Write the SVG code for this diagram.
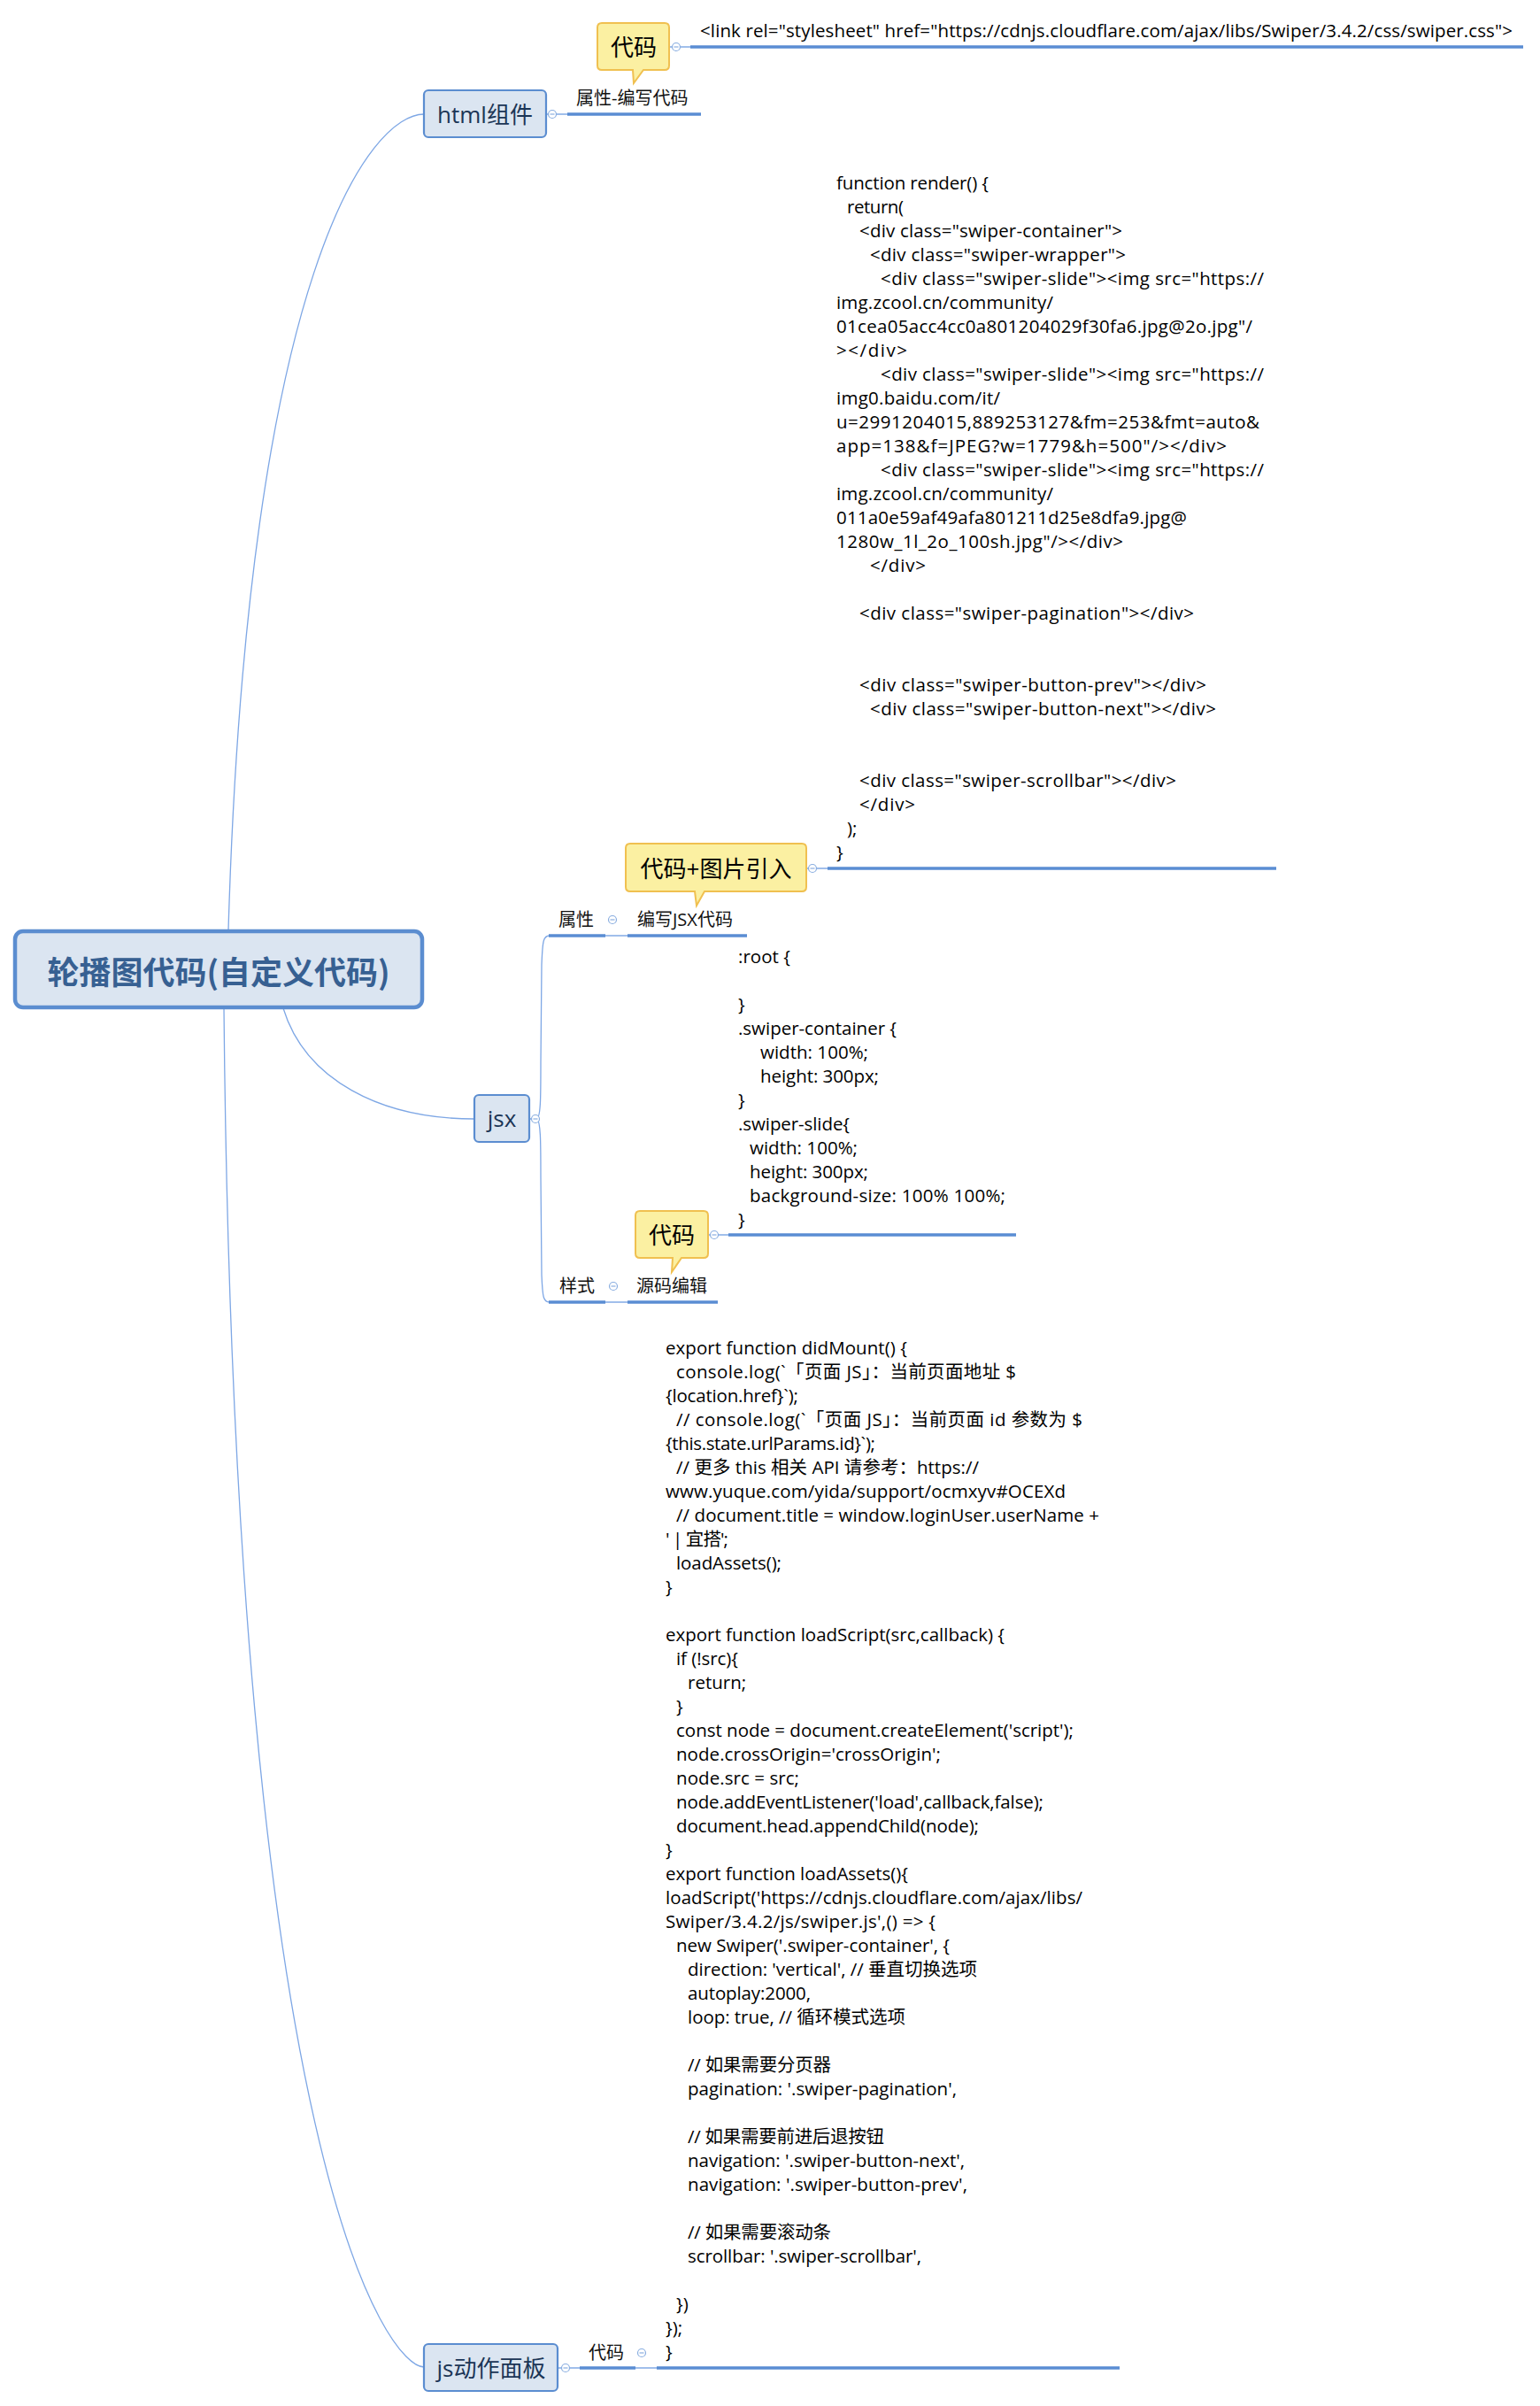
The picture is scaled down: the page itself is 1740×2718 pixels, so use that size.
<svg xmlns="http://www.w3.org/2000/svg" width="1740" height="2718" viewBox="0 0 1740 2718">
<style>
.code{font-family:"Open Sans","Noto Sans CJK SC",sans-serif;font-size:20.5px;fill:#000}
.lbl{font-family:"Open Sans","Noto Sans CJK SC",sans-serif;font-size:20px;fill:#111}
.ntxt{font-family:"Open Sans","Noto Sans CJK SC",sans-serif;font-size:26px;fill:#1b3556;text-anchor:middle;dominant-baseline:central}
.ctxt{font-family:"Open Sans","Noto Sans CJK SC",sans-serif;font-size:26px;fill:#000;text-anchor:middle;dominant-baseline:central}
.main{font-family:"Noto Sans CJK SC","Open Sans",sans-serif;font-size:36px;font-weight:bold;fill:#376092;text-anchor:middle;dominant-baseline:central}
.box{fill:#dbe5f1;stroke:#5b8dd0;stroke-width:2.2}
.callout{fill:#fbf0a2;stroke:#f0c050;stroke-width:2}
.curve{fill:none;stroke:#7ea7e5;stroke-width:1.3}
.thin{fill:none;stroke:#6f9de0;stroke-width:1.3}
.thick{fill:none;stroke:#5a8dd3;stroke-width:3.5}
.mark{fill:#fff;stroke:#8aaee0;stroke-width:1.2}
.minus{stroke:#8aaee0;stroke-width:1.2}
</style>
<defs>
<g id="collapse"><circle class="mark" cx="0" cy="0" r="4.5"/><line class="minus" x1="-2.5" y1="0" x2="2.5" y2="0"/></g>
</defs>
<rect width="1740" height="2718" fill="#fff"/>

<g id="connectors">
<path class="curve" d="M258,1051 C280,300 420,129 479,129"/>
<path class="curve" d="M320,1139 C345,1220 430,1264 536,1264"/>
<path class="curve" d="M253,1139 C265,2450 440,2674 479,2674"/>
<line class="thin" x1="617" y1="129" x2="641" y2="129"/>
<line class="thick" x1="641" y1="129" x2="792" y2="129"/>
<line class="thin" x1="756" y1="53" x2="780" y2="53"/>
<line class="thick" x1="780" y1="53" x2="1721" y2="53"/>
<line class="thin" x1="911" y1="981" x2="935" y2="981"/>
<line class="thick" x1="935" y1="981" x2="1442" y2="981"/>
<path class="curve" d="M598,1264 L606,1264 C611,1264 611,1240 611,1200 L612,1090 C613,1062 614,1057 621,1057"/>
<path class="curve" d="M606,1264 C611,1264 611,1290 611,1330 L612,1440 C613,1466 614,1471 621,1471"/>
<line class="thick" x1="620" y1="1057" x2="684" y2="1057"/>
<line class="thin" x1="684" y1="1057" x2="709" y2="1057"/>
<line class="thick" x1="709" y1="1057" x2="844" y2="1057"/>
<line class="thick" x1="620" y1="1471" x2="684" y2="1471"/>
<line class="thin" x1="684" y1="1471" x2="709" y2="1471"/>
<line class="thick" x1="709" y1="1471" x2="811" y2="1471"/>
<line class="thin" x1="800" y1="1395" x2="823" y2="1395"/>
<line class="thick" x1="823" y1="1395" x2="1148" y2="1395"/>
<line class="thin" x1="630" y1="2675" x2="655" y2="2675"/>
<line class="thick" x1="655" y1="2675" x2="718" y2="2675"/>
<line class="thin" x1="718" y1="2675" x2="742" y2="2675"/>
<line class="thick" x1="742" y1="2675" x2="1265" y2="2675"/>
<use href="#collapse" x="624" y="129"/>
<use href="#collapse" x="764" y="53"/>
<use href="#collapse" x="918" y="981"/>
<use href="#collapse" x="605" y="1264"/>
<use href="#collapse" x="692" y="1039"/>
<use href="#collapse" x="807" y="1395"/>
<use href="#collapse" x="693" y="1453"/>
<use href="#collapse" x="639" y="2675"/>
<use href="#collapse" x="725" y="2658"/>
</g>

<g id="node-main">
<rect x="17" y="1052" width="460" height="86" rx="9" fill="#dbe5f1" stroke="#5b8dd0" stroke-width="4.5"/>
<text class="main" x="247" y="1096">轮播图代码(自定义代码)</text>
</g>

<g id="node-html">
<rect class="box" x="479" y="102" width="138" height="53" rx="5"/>
<text class="ntxt" x="548" y="129">html组件</text>
</g>
<g id="node-html-attr">
<text class="lbl" x="651" y="118">属性-编写代码</text>
</g>
<g id="node-html-callout">
<path class="callout" d="M680,26 H751 Q756,26 756,31 V74 Q756,79 751,79 H727 L716,94 L715,79 H680 Q675,79 675,74 V31 Q675,26 680,26 Z"/>
<text class="ctxt" x="716" y="53">代码</text>
</g>
<g id="node-html-link">
<text class="code" x="791" y="42" textLength="918">&lt;link rel="stylesheet" href="https://cdnjs.cloudflare.com/ajax/libs/Swiper/3.4.2/css/swiper.css"&gt;</text>
</g>

<g id="node-render-code">
<text class="code" x="945" y="214" textLength="172">function render() {</text>
<text class="code" x="957" y="241" textLength="64">return(</text>
<text class="code" x="971" y="268" textLength="297">&lt;div class="swiper-container"&gt;</text>
<text class="code" x="983" y="295" textLength="289">&lt;div class="swiper-wrapper"&gt;</text>
<text class="code" x="995" y="322" textLength="433">&lt;div class="swiper-slide"&gt;&lt;img src="https://</text>
<text class="code" x="945" y="349" textLength="245">img.zcool.cn/community/</text>
<text class="code" x="945" y="376" textLength="470">01cea05acc4cc0a801204029f30fa6.jpg@2o.jpg"/</text>
<text class="code" x="945" y="403" textLength="80">&gt;&lt;/div&gt;</text>
<text class="code" x="995" y="430" textLength="433">&lt;div class="swiper-slide"&gt;&lt;img src="https://</text>
<text class="code" x="945" y="457" textLength="185">img0.baidu.com/it/</text>
<text class="code" x="945" y="484" textLength="478">u=2991204015,889253127&amp;fm=253&amp;fmt=auto&amp;</text>
<text class="code" x="945" y="511" textLength="441">app=138&amp;f=JPEG?w=1779&amp;h=500"/&gt;&lt;/div&gt;</text>
<text class="code" x="995" y="538" textLength="433">&lt;div class="swiper-slide"&gt;&lt;img src="https://</text>
<text class="code" x="945" y="565" textLength="245">img.zcool.cn/community/</text>
<text class="code" x="945" y="592" textLength="396">011a0e59af49afa801211d25e8dfa9.jpg@</text>
<text class="code" x="945" y="619" textLength="324">1280w_1l_2o_100sh.jpg"/&gt;&lt;/div&gt;</text>
<text class="code" x="983" y="646" textLength="63">&lt;/div&gt;</text>
<text class="code" x="971" y="700" textLength="378">&lt;div class="swiper-pagination"&gt;&lt;/div&gt;</text>
<text class="code" x="971" y="781" textLength="392">&lt;div class="swiper-button-prev"&gt;&lt;/div&gt;</text>
<text class="code" x="983" y="808" textLength="391">&lt;div class="swiper-button-next"&gt;&lt;/div&gt;</text>
<text class="code" x="971" y="889" textLength="358">&lt;div class="swiper-scrollbar"&gt;&lt;/div&gt;</text>
<text class="code" x="971" y="916" textLength="63">&lt;/div&gt;</text>
<text class="code" x="957" y="943">);</text>
<text class="code" x="945" y="970">}</text>
</g>

<g id="node-jsx">
<rect class="box" x="536" y="1237" width="62" height="53" rx="5"/>
<text class="ntxt" x="567" y="1263">jsx</text>
</g>
<g id="node-jsx-attr">
<text class="lbl" x="631" y="1046">属性</text>
</g>
<g id="node-jsx-write">
<text class="lbl" x="720" y="1046">编写JSX代码</text>
</g>
<g id="node-jsx-callout1">
<path class="callout" d="M712,953 H906 Q911,953 911,958 V1002 Q911,1007 906,1007 H796 L787,1023 L785,1007 H712 Q707,1007 707,1002 V958 Q707,953 712,953 Z"/>
<text class="ctxt" x="809" y="981">代码+图片引入</text>
</g>
<g id="node-jsx-style">
<text class="lbl" x="632" y="1460">样式</text>
</g>
<g id="node-jsx-source">
<text class="lbl" x="719" y="1460">源码编辑</text>
</g>
<g id="node-jsx-callout2">
<path class="callout" d="M723,1368 H795 Q800,1368 800,1373 V1416 Q800,1421 795,1421 H770 L759,1437 L760,1421 H723 Q718,1421 718,1416 V1373 Q718,1368 723,1368 Z"/>
<text class="ctxt" x="759" y="1395">代码</text>
</g>
<g id="node-css-code">
<text class="code" x="834" y="1088" textLength="59">:root {</text>
<text class="code" x="834" y="1142">}</text>
<text class="code" x="834" y="1169" textLength="179">.swiper-container {</text>
<text class="code" x="859" y="1196" textLength="122">width: 100%;</text>
<text class="code" x="859" y="1223" textLength="134">height: 300px;</text>
<text class="code" x="834" y="1250">}</text>
<text class="code" x="834" y="1277" textLength="126">.swiper-slide{</text>
<text class="code" x="847" y="1304" textLength="122">width: 100%;</text>
<text class="code" x="847" y="1331" textLength="134">height: 300px;</text>
<text class="code" x="847" y="1358" textLength="289">background-size: 100% 100%;</text>
<text class="code" x="834" y="1385">}</text>
</g>

<g id="node-js">
<rect class="box" x="479" y="2648" width="151" height="53" rx="5"/>
<text class="ntxt" x="555" y="2675">js动作面板</text>
</g>
<g id="node-js-code-label">
<text class="lbl" x="665" y="2665">代码</text>
</g>
<g id="node-js-code">
<text class="code" x="752" y="1530" textLength="273">export function didMount() {</text>
<text class="code" x="764" y="1557" textLength="384">console.log(`「页面 JS」：当前页面地址 $</text>
<text class="code" x="752" y="1584" textLength="150">{location.href}`);</text>
<text class="code" x="764" y="1611" textLength="459">// console.log(`「页面 JS」：当前页面 id 参数为 $</text>
<text class="code" x="752" y="1638" textLength="237">{this.state.urlParams.id}`);</text>
<text class="code" x="764" y="1665" textLength="342">// 更多 this 相关 API 请参考：https://</text>
<text class="code" x="752" y="1692" textLength="452">www.yuque.com/yida/support/ocmxyv#OCEXd</text>
<text class="code" x="764" y="1719" textLength="478">// document.title = window.loginUser.userName +</text>
<text class="code" x="752" y="1746" textLength="71">' | 宜搭';</text>
<text class="code" x="764" y="1773" textLength="119">loadAssets();</text>
<text class="code" x="752" y="1800">}</text>
<text class="code" x="752" y="1854" textLength="383">export function loadScript(src,callback) {</text>
<text class="code" x="764" y="1881" textLength="70">if (!src){</text>
<text class="code" x="777" y="1908">return;</text>
<text class="code" x="764" y="1935">}</text>
<text class="code" x="764" y="1962" textLength="449">const node = document.createElement('script');</text>
<text class="code" x="764" y="1989" textLength="299">node.crossOrigin='crossOrigin';</text>
<text class="code" x="764" y="2016" textLength="139">node.src = src;</text>
<text class="code" x="764" y="2043" textLength="415">node.addEventListener('load',callback,false);</text>
<text class="code" x="764" y="2070" textLength="342">document.head.appendChild(node);</text>
<text class="code" x="752" y="2097">}</text>
<text class="code" x="752" y="2124" textLength="274">export function loadAssets(){</text>
<text class="code" x="752" y="2151" textLength="471">loadScript('https://cdnjs.cloudflare.com/ajax/libs/</text>
<text class="code" x="752" y="2178" textLength="305">Swiper/3.4.2/js/swiper.js',() =&gt; {</text>
<text class="code" x="764" y="2205" textLength="309">new Swiper('.swiper-container', {</text>
<text class="code" x="777" y="2232" textLength="327">direction: 'vertical', // 垂直切换选项</text>
<text class="code" x="777" y="2259" textLength="139">autoplay:2000,</text>
<text class="code" x="777" y="2286" textLength="246">loop: true, // 循环模式选项</text>
<text class="code" x="777" y="2340" textLength="162">// 如果需要分页器</text>
<text class="code" x="777" y="2367" textLength="304">pagination: '.swiper-pagination',</text>
<text class="code" x="777" y="2421" textLength="222">// 如果需要前进后退按钮</text>
<text class="code" x="777" y="2448" textLength="313">navigation: '.swiper-button-next',</text>
<text class="code" x="777" y="2475" textLength="316">navigation: '.swiper-button-prev',</text>
<text class="code" x="777" y="2529" textLength="162">// 如果需要滚动条</text>
<text class="code" x="777" y="2556" textLength="264">scrollbar: '.swiper-scrollbar',</text>
<text class="code" x="764" y="2610">})</text>
<text class="code" x="752" y="2637">});</text>
<text class="code" x="752" y="2664">}</text>
</g>
</svg>
